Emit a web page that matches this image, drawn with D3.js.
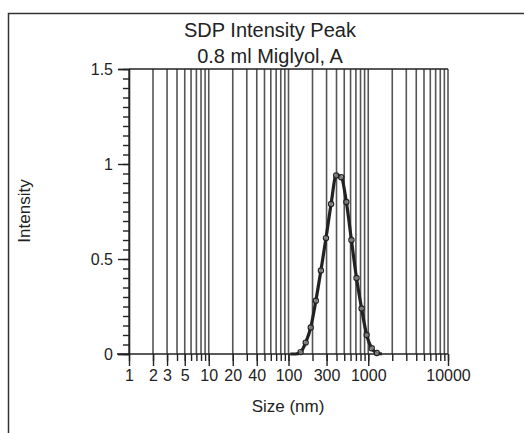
<!DOCTYPE html>
<html>
<head>
<meta charset="utf-8">
<script src="https://cdn.jsdelivr.net/npm/d3@7"></script>
<style>
  body { margin: 0; background: #fff; }
  text { font-family: "Liberation Sans", Arial, sans-serif; fill: #222; }
</style>
</head>
<body>
<div id="chart"></div>
<script>
// peak (size in nm, intensity)
var sizes = [105.7, 122.4, 141.8, 164.2, 190.1, 220.2, 255.0, 295.3, 342.0, 396.1,
             458.7, 531.2, 615.1, 712.4, 825.0, 955.4, 1106, 1281, 1484];
var intensity = [0, 0, 0.01, 0.06, 0.14, 0.28, 0.44, 0.61, 0.79, 0.94,
                 0.93, 0.80, 0.60, 0.40, 0.24, 0.10, 0.03, 0.005, 0];

var xLabels = [1, 2, 3, 5, 10, 20, 40, 100, 300, 1000, 10000];
var yLabels = [0, 0.5, 1, 1.5];
var titleLines = ["SDP Intensity Peak", "0.8 ml Miglyol, A"];

var svgWidth = 524;
var svgHeight = 433;

var svg = d3.select("#chart")
  .append("svg")
  .attr("width", svgWidth)
  .attr("height", svgHeight);

// outer frame (runs off right and bottom edge)
svg.append("rect")
  .attr("x", 8.5).attr("y", 13.5)
  .attr("width", 540).attr("height", 440)
  .attr("fill", "none")
  .attr("stroke", "#333")
  .attr("stroke-width", 1.5);

var x = d3.scaleLog().domain([1, 10000]).range([129, 448]);
var y = d3.scaleLinear().domain([0, 1.5]).range([354, 69]);

// every 1..9 per decade
var gridVals = [];
for (var k = 0; k < 4; k++) {
  for (var m = 1; m < 10; m++) gridVals.push(m * Math.pow(10, k));
}
gridVals.push(10000);

svg.append("g")
  .selectAll("line")
  .data(gridVals)
  .enter()
  .append("line")
  .attr("x1", d => x(d)).attr("x2", d => x(d))
  .attr("y1", y(1.5)).attr("y2", y(0))
  .attr("stroke", "#555")
  .attr("stroke-width", 1.6);

// top border of plot
svg.append("line")
  .attr("x1", x(1)).attr("x2", x(10000))
  .attr("y1", y(1.5)).attr("y2", y(1.5))
  .attr("stroke", "#222").attr("stroke-width", 1.5);

// x axis: short ticks everywhere, long ones under the labels
var xMinor = svg.append("g")
  .attr("transform", `translate(0, ${y(0)})`)
  .call(d3.axisBottom(x).tickValues(gridVals).tickSize(7).tickFormat(""));
xMinor.select(".domain").remove();

var xAxis = svg.append("g")
  .attr("transform", `translate(0, ${y(0)})`)
  .call(d3.axisBottom(x).tickValues(xLabels).tickSize(12).tickPadding(4)
    .tickFormat(d => String(d)));
xAxis.select(".domain").remove();
xAxis.selectAll("text").attr("font-size", 16).attr("fill", "#222");

// x axis line runs a little left past the y axis
svg.append("line")
  .attr("x1", 117).attr("x2", x(10000))
  .attr("y1", y(0)).attr("y2", y(0))
  .attr("stroke", "#222").attr("stroke-width", 1.5);

// y axis
var yMinorVals = d3.range(0, 31).map(i => i * 0.05);
var yMinor = svg.append("g")
  .attr("transform", `translate(${x(1)}, 0)`)
  .call(d3.axisLeft(y).tickValues(yMinorVals).tickSize(6).tickFormat(""));
yMinor.select(".domain").remove();

var yAxis = svg.append("g")
  .attr("transform", `translate(${x(1)}, 0)`)
  .call(d3.axisLeft(y).tickValues(yLabels).tickSize(11).tickPadding(5)
    .tickFormat(d => String(d)));
yAxis.selectAll("text").attr("font-size", 16).attr("fill", "#222");

svg.selectAll(".tick line").attr("stroke", "#222").attr("stroke-width", 1.4);
yAxis.select(".domain").attr("stroke", "#222").attr("stroke-width", 1.6);

// title
svg.selectAll(".title")
  .data(titleLines)
  .enter()
  .append("text")
  .attr("class", "title")
  .attr("x", 270)
  .attr("y", (d, i) => 37 + i * 26)
  .attr("text-anchor", "middle")
  .attr("font-size", 20)
  .text(d => d);

// axis titles
svg.append("text")
  .attr("x", 288)
  .attr("y", 412)
  .attr("text-anchor", "middle")
  .attr("font-size", 17)
  .text("Size (nm)");

svg.append("text")
  .attr("transform", `translate(30, 211) rotate(-90)`)
  .attr("text-anchor", "middle")
  .attr("font-size", 17)
  .text("Intensity");

// peak curve with hollow markers
var pts = sizes.map((s, i) => ({ size: s, value: intensity[i] }));

var line = d3.line()
  .x(d => x(d.size))
  .y(d => y(d.value))
  .curve(d3.curveMonotoneX);

svg.append("path")
  .datum(pts)
  .attr("d", line)
  .attr("fill", "none")
  .attr("stroke", "#222")
  .attr("stroke-width", 3.2);

svg.append("g")
  .selectAll("circle")
  .data(pts.filter(d => d.value > 0))
  .enter()
  .append("circle")
  .attr("cx", d => x(d.size))
  .attr("cy", d => y(d.value))
  .attr("r", 2.6)
  .attr("fill", "#fff")
  .attr("fill-opacity", 0.4)
  .attr("stroke", "#222")
  .attr("stroke-width", 1.2);
</script>
</body>
</html>
